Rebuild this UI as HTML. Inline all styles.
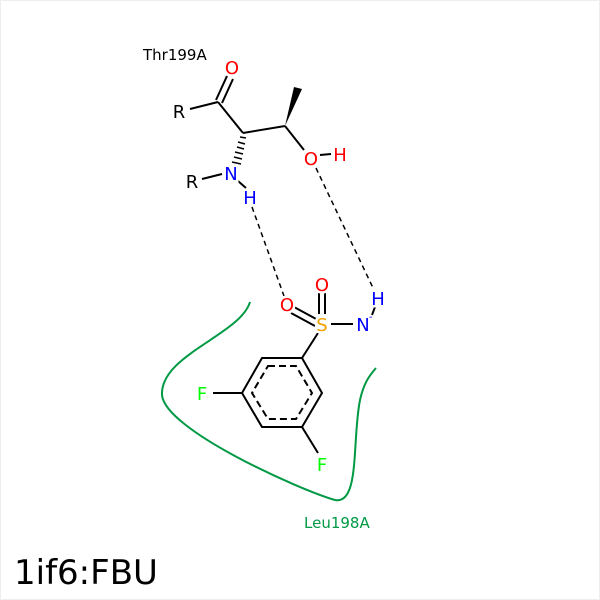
<!DOCTYPE html>
<html><head><style>body{margin:0;background:#fff}svg{display:block}text{font-family:"DejaVu Sans","Liberation Sans",sans-serif}.l text{paint-order:stroke;stroke:#fff;stroke-width:5px}</style></head><body>
<svg width="600" height="600" viewBox="0 0 600 600" xmlns="http://www.w3.org/2000/svg">
<rect x="0.5" y="0.5" width="599" height="599" fill="#fff" stroke="#eee"/>
<path d="M250,302 C240,335 160,355 162,395 C165,430 300,490 335,500 C360,505 352,440 360,400 C364,382 370,375 376,368" fill="none" stroke="#009944" stroke-width="2"/>
<g stroke="#000" stroke-width="2" fill="none">
<line x1="190" y1="109" x2="218" y2="102"/>
<line x1="218" y1="102" x2="243" y2="133"/>
<line x1="216" y1="100" x2="227" y2="76"/>
<line x1="222" y1="103" x2="233" y2="79"/>
<line x1="243" y1="133" x2="285" y2="126"/>
<line x1="285" y1="126" x2="304" y2="150"/>
<line x1="202" y1="179" x2="222" y2="174"/>
<line x1="238" y1="181" x2="246" y2="188"/>
<line x1="318" y1="333" x2="302" y2="358"/>
<line x1="331" y1="324" x2="353" y2="324"/>
<line x1="318" y1="320" x2="294" y2="307"/>
<line x1="315" y1="326" x2="291" y2="313"/>
<line x1="319" y1="314" x2="319" y2="292"/>
<line x1="325" y1="314" x2="325" y2="292"/>
<line x1="372" y1="315" x2="375" y2="307"/>
<polygon points="262,358 302,358 322,393 302,427 262,427 242,393"/>
<polygon points="268,366 296,366 312,393 296,419 268,419 252,393" stroke-dasharray="7,4"/>
<line x1="242" y1="393" x2="213" y2="393"/>
<line x1="302" y1="427" x2="318" y2="453"/>
<line x1="320" y1="155" x2="331" y2="154"/>
</g>
<polygon points="285,126 294,87 302,89" fill="#000"/>
<g stroke="#000" stroke-width="1.5">
<line x1="240" y1="137" x2="246" y2="138"/>
<line x1="238" y1="142" x2="245" y2="144"/>
<line x1="237" y1="147" x2="244" y2="149"/>
<line x1="235" y1="152" x2="243" y2="154"/>
<line x1="234" y1="157" x2="242" y2="159"/>
<line x1="232" y1="162" x2="241" y2="164"/>
</g>
<g stroke="#000" stroke-width="1.5" stroke-dasharray="5,4" fill="none">
<line x1="252" y1="207" x2="284" y2="296"/>
<line x1="316" y1="168" x2="374" y2="290"/>
</g>
<g font-size="18" text-anchor="middle" class="l">
<text x="232" y="74" fill="#f00">O</text>
<text x="179" y="118" fill="#000">R</text>
<text x="192" y="188" fill="#000">R</text>
<text x="231" y="180" fill="#00f">N</text>
<text x="250" y="204" fill="#00f">H</text>
<text x="311" y="165" fill="#f00">O</text>
<text x="340" y="161" fill="#f00">H</text>
<text x="287" y="311" fill="#f00">O</text>
<text x="322" y="291" fill="#f00">O</text>
<text x="322" y="331" fill="#f0a000">S</text>
<text x="363" y="331" fill="#00f">N</text>
<text x="378" y="305" fill="#00f">H</text>
<text x="202" y="400" fill="#0f0">F</text>
<text x="322" y="471" fill="#0f0">F</text>
</g>
<text x="369" y="320" font-size="10" fill="#00f">-</text>
<text x="143" y="60" font-size="15" fill="#000">Thr199A</text>
<text x="304" y="528" font-size="15" fill="#009944">Leu198A</text>
<text x="14" y="584" font-size="34" fill="#000">1if6:FBU</text>
</svg>
</body></html>
